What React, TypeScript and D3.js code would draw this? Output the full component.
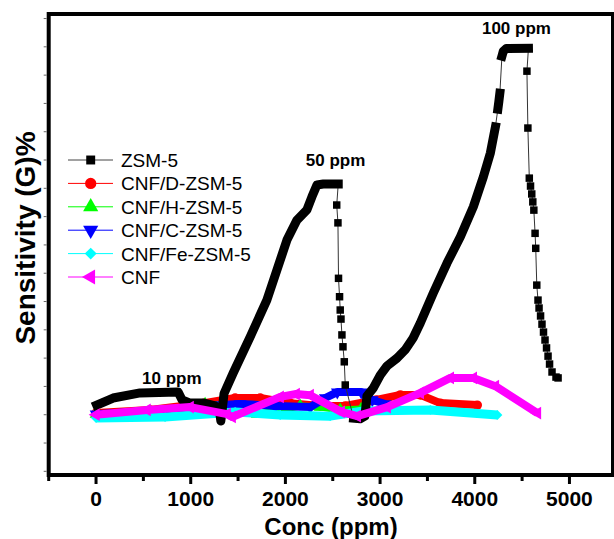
import React from 'react';
import * as d3 from 'd3';

const W = 614;
const H = 539;
const FONT = '"Liberation Sans", Arial, Helvetica, sans-serif';

const xMajorTicks = [0, 1000, 2000, 3000, 4000, 5000];
const xMinorTicks = [-500, 500, 1500, 2500, 3500, 4500];
const yTicks = [-2, -1, 0, 1, 2, 3, 4, 5, 6, 7, 8, 9, 10, 11, 12, 13, 14];

const legendLabels = ['ZSM-5', 'CNF/D-ZSM-5', 'CNF/H-ZSM-5', 'CNF/C-ZSM-5', 'CNF/Fe-ZSM-5', 'CNF'];
const seriesColors = ['#000000', '#ff0000', '#00ff00', '#0000ff', '#00ffff', '#ff00ff'];

const peakLabels = ['10 ppm', '50 ppm', '100 ppm'];
const peakLabelX = [800, 2530, 4440];
const peakLabelY = [1.08, 8.8, 13.45];

type P = [number, number];

// ZSM-5, split into dense runs and sparse parts
const zsmBaseline: P[] = [
  [7, 0.34], [180, 0.59], [465, 0.77], [867, 0.8], [909, 0.52], [994, 0.41],
  [1142, 0.41], [1258, 0.31], [1300, 0.22],
];
const zsmRise50: P[] = [
  [1300, 0.22], [1318, -0.22], [1335, 0.25], [1352, 0.75], [1448, 1.47], [1628, 2.75],
  [1804, 4.05], [1910, 5.11], [2016, 6.17], [2122, 6.88], [2227, 7.24], [2280, 7.7],
  [2333, 8.12], [2400, 8.15], [2558, 8.15],
];
const zsmFall50: P[] = [
  [2542, 7.41], [2555, 6.78], [2561, 4.82], [2572, 4.17], [2579, 3.7], [2587, 3.38],
  [2597, 2.82], [2608, 2.4], [2622, 1.87], [2632, 1.05],
];
const zsmRise100: P[] = [
  [2720, -0.12], [2790, -0.14], [2840, -0.05], [2861, 0.66], [2928, 0.94], [3002, 1.4],
  [3073, 1.72], [3179, 2.0], [3264, 2.29], [3349, 2.71], [3425, 3.24], [3562, 4.3],
  [3707, 5.36], [3848, 6.29], [3985, 7.35], [4091, 8.41], [4165, 9.25], [4218, 10.17],
];
const zsmMid100: P[] = [[4244, 10.8], [4255, 11.08], [4265, 11.36]];
const zsmTop100: P[] = [[4287, 12.67], [4302, 12.85], [4334, 12.94], [4567, 12.95]];
const zsmFall100: P[] = [
  [4551, 12.14], [4561, 10.13],
  [4576, 8.36], [4589, 8.08], [4602, 7.8], [4613, 7.52], [4624, 7.23],
  [4637, 6.41], [4644, 5.88], [4655, 4.58],
  [4668, 4.05], [4679, 3.77], [4695, 3.49], [4710, 3.2], [4726, 2.92], [4742, 2.64],
  [4758, 2.36], [4774, 2.07], [4790, 1.79], [4816, 1.51], [4858, 1.33], [4880, 1.3],
];

const cnfD: P[] = [
  [0, 0.06], [571, 0.17], [1142, 0.41], [1469, 0.59], [1734, 0.59], [2051, 0.41],
  [2368, 0.31], [2632, 0.31], [2960, 0.52], [3214, 0.7], [3425, 0.7], [3636, 0.41], [4027, 0.34],
];
const cnfH: P[] = [
  [0, 0.02], [571, 0.1], [1152, 0.38], [1522, 0.27], [1702, 0.02], [1945, 0.17],
  [2156, 0.31], [2368, 0.27], [2579, 0.17], [2800, 0.2],
];
const cnfC: P[] = [
  [0, 0.02], [571, 0.13], [1152, 0.31], [1522, 0.38], [1892, 0.31], [2262, 0.27],
  [2421, 0.59], [2548, 0.8], [2801, 0.8], [2918, 0.52], [3055, 0.38],
];
const cnfFe: P[] = [
  [0, -0.12], [729, -0.08], [1469, 0.1], [1945, -0.01], [2474, -0.05], [2822, 0.13],
  [3531, 0.17], [4239, -0.01],
];
const cnf: P[] = [
  [0, 0.0], [539, 0.17], [994, 0.27], [1385, 0.02], [1438, -0.08], [1945, 0.63],
  [2114, 0.73], [2262, 0.69], [2590, 0.1], [2759, -0.05], [3076, 0.27], [3425, 0.77],
  [3742, 1.3], [3985, 1.3], [4218, 1.01], [4662, 0.06],
];

const x = d3.scaleLinear().domain([-500, 5460]).range([48.7, 613]);
const y = d3.scaleLinear().domain([-2.13, 14.16]).range([475, 14]);
const line = d3.line<P>().x((d) => x(d[0])).y((d) => y(d[1]));

const symSquare = d3.symbol().type(d3.symbolSquare);
const symCircle = d3.symbol().type(d3.symbolCircle);
const symTri = d3.symbol().type(d3.symbolTriangle);

function marker(i: number, size: number): { d: string; rot: number } {
  if (i === 0) return { d: symSquare.size(size)() as string, rot: 0 };
  if (i === 1) return { d: symCircle.size(size)() as string, rot: 0 };
  if (i === 2) return { d: symTri.size(size)() as string, rot: 0 };
  if (i === 3) return { d: symTri.size(size)() as string, rot: 180 };
  if (i === 4) return { d: symSquare.size(size * 0.7)() as string, rot: 45 };
  return { d: symTri.size(size)() as string, rot: -90 };
}

const colored: { data: P[]; idx: number; width: number }[] = [
  { data: cnfD, idx: 1, width: 8 },
  { data: cnfH, idx: 2, width: 7 },
  { data: cnfC, idx: 3, width: 8 },
  { data: cnfFe, idx: 4, width: 9 },
];

export default function App() {
  const zsmAll = [
    ...zsmBaseline, ...zsmRise50.slice(1), ...zsmFall50, ...zsmRise100,
    ...zsmMid100, ...zsmTop100, ...zsmFall100,
  ];
  const zsmThick = [zsmBaseline, zsmRise50, zsmRise100, zsmMid100, zsmTop100];
  const zsmMarkers = [...zsmFall50, ...zsmFall100, zsmMid100[0], zsmMid100[2]];

  const renderColored = (data: P[], idx: number, width: number) => {
    const m = marker(idx, 70);
    return (
      <g key={idx}>
        <path d={line(data) as string} fill="none" stroke={seriesColors[idx]} strokeWidth={width} strokeLinejoin="round" />
        {data.map((d, j) => (
          <path key={j} d={m.d} fill={seriesColors[idx]} transform={`translate(${x(d[0])},${y(d[1])}) rotate(${m.rot})`} />
        ))}
      </g>
    );
  };

  return (
    <svg width={W} height={H} style={{ position: 'absolute', left: 0, top: 0, display: 'block' }} fontFamily={FONT}>
      <rect x={0} y={0} width={W} height={H} fill="#fff" />

      {colored.map((s) => renderColored(s.data, s.idx, s.width))}

      <g>
        <path d={line(zsmAll) as string} fill="none" stroke="#333" strokeWidth={1} />
        {zsmThick.map((seg, i) => (
          <path key={i} d={line(seg) as string} fill="none" stroke="#000" strokeWidth={9} strokeLinejoin="round" strokeLinecap="square" />
        ))}
        {zsmMarkers.map((d, j) => (
          <path key={j} d={symSquare.size(56)() as string} fill="#000" transform={`translate(${x(d[0])},${y(d[1])})`} />
        ))}
      </g>

      {renderColored(cnf, 5, 8)}

      {peakLabels.map((t, i) => (
        <text key={t} x={x(peakLabelX[i])} y={y(peakLabelY[i])} textAnchor="middle" fontSize={17} fontWeight="bold" fill="#000">
          {t}
        </text>
      ))}

      {legendLabels.map((t, i) => {
        const ly = 160 + i * 23.4;
        const m = marker(i, i === 0 ? 80 : 100);
        return (
          <g key={t}>
            <line x1={68} x2={113} y1={ly} y2={ly} stroke={i === 0 ? '#444' : seriesColors[i]} strokeWidth={1} />
            <path d={m.d} fill={seriesColors[i]} transform={`translate(90.7,${ly}) rotate(${m.rot})`} />
            <text x={121} y={ly + 7} fontSize={19} fill="#000">{t}</text>
          </g>
        );
      })}

      <rect x={x(-500)} y={y(14.16)} width={x(5460) - x(-500)} height={y(-2.13) - y(14.16)} fill="none" stroke="#000" strokeWidth={4} />

      {yTicks.map((v) => (
        <line key={v} x1={x(-500) - 5} x2={x(-500) - 2} y1={y(v)} y2={y(v)} stroke="#666" strokeWidth={1} />
      ))}

      {xMajorTicks.map((v) => (
        <g key={v}>
          <line x1={x(v)} x2={x(v)} y1={475} y2={484} stroke="#000" strokeWidth={3} />
          <text x={x(v)} y={506} textAnchor="middle" fontSize={21} fontWeight="bold" fill="#000">{v}</text>
        </g>
      ))}
      {xMinorTicks.map((v) => (
        <line key={v} x1={x(v)} x2={x(v)} y1={475} y2={481} stroke="#000" strokeWidth={3} />
      ))}

      <text x={331} y={535} textAnchor="middle" fontSize={24} fontWeight="bold" fill="#000">Conc (ppm)</text>
      <text transform="translate(35,238) rotate(-90)" textAnchor="middle" fontSize={28} fontWeight="bold" fill="#000">
        Sensitivity (G)%
      </text>
    </svg>
  );
}
